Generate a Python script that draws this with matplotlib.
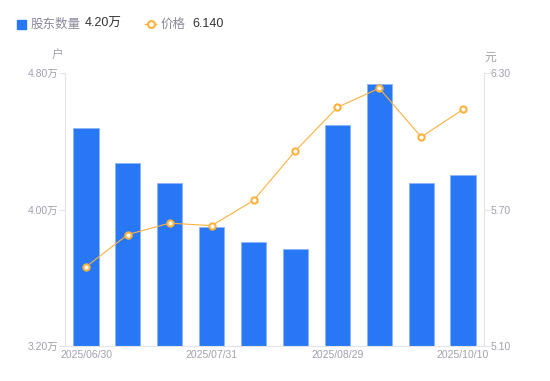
import matplotlib
matplotlib.use('Agg')
import matplotlib.pyplot as plt
from matplotlib.lines import Line2D
from matplotlib.patches import Rectangle
import numpy as np

plt.rcParams['font.family'] = ['Liberation Sans', 'Noto Sans CJK SC', 'DejaVu Sans']

dates = ['2025/06/30', '2025/07/10', '2025/07/20', '2025/07/31', '2025/08/10',
         '2025/08/20', '2025/08/29', '2025/09/10', '2025/09/30', '2025/10/10']
holders = [4.478, 4.273, 4.155, 3.897, 3.808, 3.768, 4.496, 4.736, 4.157, 4.20]  # 万户
price = [5.448, 5.590, 5.640, 5.629, 5.740, 5.958, 6.149, 6.233, 6.019, 6.140]   # 元

left_ticks = [3.20, 4.00, 4.80]
right_ticks = [5.10, 5.70, 6.30]

blue = '#2878F5'
orange = '#FFB13D'
gray_txt = '#A0A0B0'
axis_col = '#E3E3E8'
cjk = ['Noto Sans CJK SC', 'DejaVu Sans']

fig = plt.figure(figsize=(5.5, 3.81), dpi=100)
ax = fig.add_axes([65 / 550, 35 / 381, 419 / 550, 273 / 381])
ax2 = ax.twinx()

x = np.arange(len(dates))
ax.bar(x, holders, width=0.6, color=blue, edgecolor='#8DB6F8', linewidth=0.6,
       bottom=0, zorder=2)
ax.set_ylim(3.20, 4.80)
ax.set_xlim(-0.5, len(dates) - 0.5)
ax.set_yticks(left_ticks)
ax.set_yticklabels([f'{v:.2f}万' for v in left_ticks])
ax.set_xticks(x[::3])
ax.set_xticklabels(dates[::3])

ax2.plot(x, price, color=orange, linewidth=0.8, marker='o', markersize=4.5,
         markerfacecolor='white', markeredgecolor=orange, markeredgewidth=1.5, zorder=3)
ax2.set_ylim(5.10, 6.30)
ax2.set_yticks(right_ticks)
ax2.set_yticklabels([f'{v:.2f}' for v in right_ticks])

for a in (ax, ax2):
    for s in a.spines.values():
        s.set_visible(False)
    a.tick_params(colors=axis_col, labelcolor=gray_txt, labelsize=7.5,
                  length=4, width=0.8, pad=1)
ax.spines['left'].set_visible(True)
ax.spines['left'].set_color(axis_col)
ax.spines['bottom'].set_visible(True)
ax.spines['bottom'].set_color(axis_col)
ax2.spines['right'].set_visible(True)
ax2.spines['right'].set_color(axis_col)
ax.tick_params(axis='x', length=0, pad=3)

ax.text(-0.017, 1.066, '户', transform=ax.transAxes, ha='center', va='center',
        color=gray_txt, fontsize=8.5, family=cjk)
ax2.text(1.014, 1.059, '元', transform=ax2.transAxes, ha='center', va='center',
         color=gray_txt, fontsize=8.5, family=cjk)

# legend
fig.add_artist(Rectangle((17 / 550, 1 - 29 / 381), 9 / 550, 9 / 381,
                         transform=fig.transFigure, color=blue))
fig.text(31 / 550, 1 - 24 / 381, '股东数量', color='#8A8A9A', fontsize=9, va='center',
         family=cjk)
fig.text(85 / 550, 1 - 24 / 381, '4.20万', color='#333333', fontsize=9, va='center')
fig.add_artist(Line2D([145 / 550, 156 / 550], [1 - 24 / 381, 1 - 24 / 381],
                      transform=fig.transFigure, color=orange, linewidth=1))
fig.add_artist(Line2D([150.5 / 550], [1 - 24 / 381], transform=fig.transFigure,
                      marker='o', markersize=5, markerfacecolor='white',
                      markeredgecolor=orange, markeredgewidth=1.5, linestyle='none'))
fig.text(161 / 550, 1 - 24 / 381, '价格', color='#8A8A9A', fontsize=9, va='center',
         family=cjk)
fig.text(192 / 550, 1 - 24 / 381, '6.140', color='#333333', fontsize=9, va='center')

fig.savefig('out.png', dpi=100)
